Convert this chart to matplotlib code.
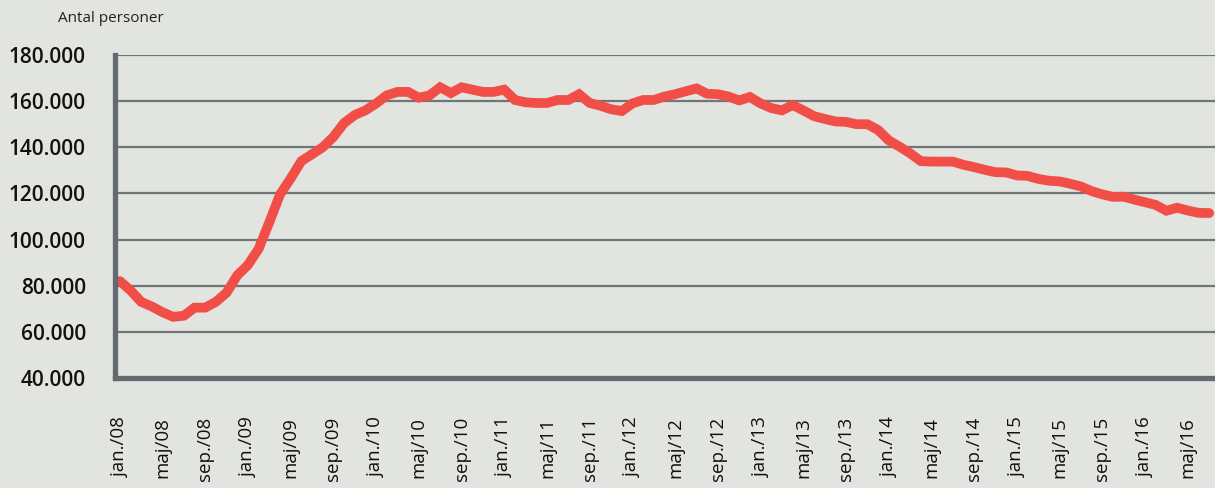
import matplotlib
matplotlib.use('Agg')
import matplotlib.pyplot as plt

# monthly values, jan 2008 - jul 2016 (thousands of persons)
persons = [82, 78, 73, 71, 68.5, 66.5, 67, 70.5, 70.5, 73,
           77, 84.5, 89, 96, 107.5, 119.5, 126.5, 134, 137, 140,
           144.5, 150.5, 154, 156, 159, 162.5, 164, 164, 161.5, 162.5,
           166, 163.5, 166, 165, 164, 164, 165, 160.5, 159.5, 159.2,
           159.2, 160.5, 160.5, 163, 159.2, 158, 156.5, 155.7, 159, 160.5,
           160.5, 162, 163, 164.3, 165.5, 163.2, 163, 162, 160.3, 161.8,
           159, 157, 156, 158.3, 156, 153.5, 152.3, 151.2, 151, 150,
           150, 147.5, 143, 140.3, 137.4, 134, 133.8, 133.8, 133.8, 132.4,
           131.4, 130.2, 129.2, 129.1, 127.8, 127.6, 126.3, 125.5, 125.2, 124.2,
           123, 121, 119.6, 118.5, 118.6, 117.3, 116.2, 115, 112.5, 113.8,
           112.6, 111.6, 111.5]
persons = [v * 1000 for v in persons]

month_names = ['jan./', 'maj/', 'sep./']
years = ['08', '09', '10', '11', '12', '13', '14', '15', '16']
tick_labels = []
for y in years:
    for m in month_names:
        tick_labels.append(m + y)
tick_labels = tick_labels[:26]  # up to maj/16
y_ticks = [40000, 60000, 80000, 100000, 120000, 140000, 160000, 180000]

bg = '#e2e4df'
dark = '#646b70'

fig = plt.figure(figsize=(12.15, 4.88), dpi=100, facecolor=bg)
ax = fig.add_axes([115 / 1215, 110 / 488, 1100 / 1215, 323 / 488])
ax.set_facecolor(bg)

x = list(range(len(persons)))
ax.plot(x, persons, color='#f04e46', linewidth=7, solid_joinstyle='miter',
        solid_capstyle='round', zorder=3)

ax.set_ylim(40000, 180000)
ax.set_xlim(-0.45, 102.55)

ax.set_yticks(y_ticks)
ax.set_yticklabels(['{:,}'.format(v).replace(',', '.') for v in y_ticks],
                   fontsize=15, fontweight=600, family='Open Sans')
ax.set_xticks(list(range(0, len(tick_labels) * 4, 4)))
ax.set_xticklabels(tick_labels, rotation=90, fontsize=13.5, family='Open Sans',
                   va='top', ha='center')
ax.tick_params(axis='both', length=0, colors='#111111')
ax.tick_params(axis='y', pad=21)
ax.tick_params(axis='x', pad=28)

ax.yaxis.grid(True, color='#6e767a', linewidth=1.6)
ax.set_axisbelow(True)

for s in ['top', 'right']:
    ax.spines[s].set_visible(False)
for s in ['left', 'bottom']:
    ax.spines[s].set_color(dark)
    ax.spines[s].set_linewidth(3.8)
    ax.spines[s].set_zorder(4)

fig.text(58 / 1215, 1 - 18 / 488, 'Antal personer', fontsize=11,
         family='Open Sans', color='#222222', va='center', ha='left')

fig.savefig('out.png', dpi=100, facecolor=bg)
